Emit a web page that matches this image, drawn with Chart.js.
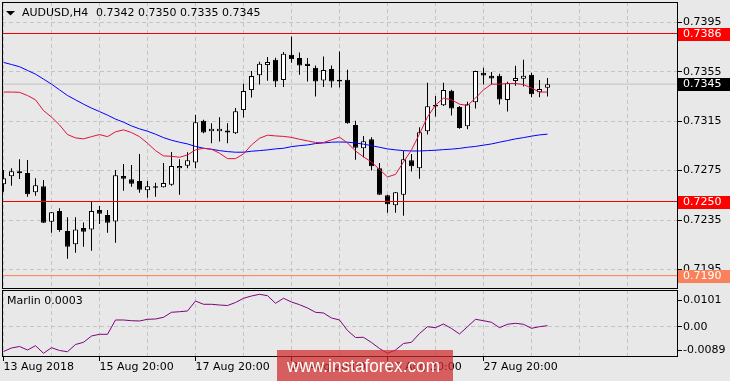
<!DOCTYPE html>
<html>
<head>
<meta charset="utf-8">
<script src="https://cdn.jsdelivr.net/npm/chart.js@4.4.1/dist/chart.umd.min.js"></script>
<style>
  html, body { margin: 0; padding: 0; background: #e8e8e8; }
  #wrap { position: relative; width: 730px; height: 381px; overflow: hidden; }
  #priceChart { position: absolute; left: 0; top: 0; }
  #marlinChart { position: absolute; left: 0; top: 289px; }
</style>
</head>
<body>
<div id="wrap">
  <canvas id="priceChart" width="730" height="289"></canvas>
  <canvas id="marlinChart" width="730" height="92"></canvas>
</div>
<script>
// AUDUSD H4 candles, one per bar index
const opens = [0.72639, 0.72704, 0.72729, 0.72731, 0.72574, 0.72623, 0.72336, 0.72423, 0.72261, 0.72153,
  0.72285, 0.72274, 0.72431, 0.72390, 0.72339, 0.72707, 0.72680, 0.72666, 0.72591, 0.72623,
  0.72615, 0.72636, 0.72769, 0.72790, 0.72815, 0.73153, 0.73069, 0.73069, 0.73074, 0.73053,
  0.73240, 0.73402, 0.73523, 0.73604, 0.73647, 0.73483, 0.73688, 0.73661, 0.73615, 0.73583,
  0.73480, 0.73572, 0.73485, 0.73485, 0.73120, 0.72931, 0.73004, 0.72769, 0.72550, 0.72469,
  0.72555, 0.72834, 0.72769, 0.73069, 0.73282, 0.73280, 0.73396, 0.73266, 0.73110, 0.73304,
  0.73542, 0.73518, 0.73518, 0.73321, 0.73475, 0.73493, 0.73526, 0.73385, 0.73420];
const highs = [0.72755, 0.72769, 0.72842, 0.72836, 0.72688, 0.72674, 0.72415, 0.72445, 0.72372, 0.72372,
  0.72331, 0.72498, 0.72463, 0.72431, 0.72755, 0.72804, 0.72796, 0.72885, 0.72666, 0.72652,
  0.72812, 0.72901, 0.72842, 0.72899, 0.73201, 0.73161, 0.73134, 0.73183, 0.73134, 0.73256,
  0.73453, 0.73556, 0.73631, 0.73669, 0.73664, 0.73710, 0.73836, 0.73707, 0.73661, 0.73601,
  0.73674, 0.73601, 0.73715, 0.73566, 0.73153, 0.73031, 0.73021, 0.72812, 0.72555, 0.72576,
  0.72909, 0.72885, 0.73102, 0.73461, 0.73355, 0.73461, 0.73404, 0.73274, 0.73307, 0.73558,
  0.73583, 0.73548, 0.73534, 0.73469, 0.73599, 0.73647, 0.73542, 0.73483, 0.73500];
const lows = [0.72579, 0.72628, 0.72682, 0.72539, 0.72547, 0.72325, 0.72247, 0.72255, 0.72036, 0.72085,
  0.72133, 0.72101, 0.72317, 0.72247, 0.72166, 0.72587, 0.72620, 0.72571, 0.72531, 0.72539,
  0.72613, 0.72628, 0.72555, 0.72769, 0.72769, 0.73053, 0.72972, 0.72985, 0.72972, 0.73047,
  0.73180, 0.73342, 0.73447, 0.73477, 0.73426, 0.73426, 0.73623, 0.73526, 0.73471, 0.73350,
  0.73426, 0.73423, 0.73423, 0.73130, 0.72839, 0.72858, 0.72750, 0.72553, 0.72409, 0.72409,
  0.72385, 0.72742, 0.72685, 0.73042, 0.73188, 0.73274, 0.73196, 0.73088, 0.73085, 0.73252,
  0.73447, 0.73447, 0.73285, 0.73228, 0.73437, 0.73431, 0.73343, 0.73343, 0.73350];
const closes = [0.72688, 0.72745, 0.72745, 0.72558, 0.72631, 0.72328, 0.72412, 0.72269, 0.72133, 0.72274,
  0.72255, 0.72423, 0.72401, 0.72328, 0.72712, 0.72685, 0.72644, 0.72596, 0.72623, 0.72612,
  0.72650, 0.72788, 0.72788, 0.72834, 0.73142, 0.73058, 0.73088, 0.73088, 0.73058, 0.73231,
  0.73394, 0.73515, 0.73615, 0.73629, 0.73471, 0.73696, 0.73651, 0.73601, 0.73596, 0.73471,
  0.73564, 0.73471, 0.73471, 0.73134, 0.72936, 0.72988, 0.72785, 0.72555, 0.72477, 0.72574,
  0.72842, 0.72785, 0.73061, 0.73272, 0.73269, 0.73402, 0.73252, 0.73096, 0.73288, 0.73556,
  0.73520, 0.73496, 0.73325, 0.73458, 0.73499, 0.73518, 0.73368, 0.73410, 0.73450];

// moving averages (red = fast, blue = slow)
const maFast = [0.73386, 0.73386, 0.73384, 0.73358, 0.73323, 0.73236, 0.73183, 0.73120, 0.73042, 0.73015,
  0.73007, 0.73025, 0.73042, 0.73025, 0.73064, 0.73080, 0.73058, 0.73025, 0.72972, 0.72912,
  0.72869, 0.72866, 0.72858, 0.72877, 0.72918, 0.72931, 0.72923, 0.72891, 0.72847, 0.72847,
  0.72885, 0.72958, 0.73012, 0.73037, 0.73031, 0.73027, 0.73019, 0.73004, 0.72991, 0.72978,
  0.72978, 0.72999, 0.73021, 0.72974, 0.72909, 0.72861, 0.72820, 0.72759, 0.72699, 0.72719,
  0.72820, 0.72918, 0.73047, 0.73185, 0.73280, 0.73337, 0.73323, 0.73288, 0.73277, 0.73337,
  0.73404, 0.73450, 0.73450, 0.73455, 0.73455, 0.73447, 0.73418, 0.73386, 0.73386];
const maSlow = [0.73626, 0.73609, 0.73591, 0.73561, 0.73531, 0.73491, 0.73450, 0.73404, 0.73358, 0.73323,
  0.73288, 0.73256, 0.73228, 0.73199, 0.73167, 0.73142, 0.73112, 0.73088, 0.73069, 0.73045,
  0.73017, 0.72996, 0.72980, 0.72966, 0.72946, 0.72931, 0.72923, 0.72912, 0.72904, 0.72899,
  0.72899, 0.72907, 0.72912, 0.72918, 0.72926, 0.72931, 0.72944, 0.72952, 0.72958, 0.72969,
  0.72974, 0.72980, 0.72982, 0.72980, 0.72974, 0.72964, 0.72952, 0.72939, 0.72926, 0.72918,
  0.72912, 0.72909, 0.72909, 0.72912, 0.72915, 0.72920, 0.72924, 0.72930, 0.72939, 0.72946,
  0.72956, 0.72966, 0.72980, 0.72993, 0.73007, 0.73017, 0.73029, 0.73039, 0.73045];

// Marlin oscillator
const marlin = [-0.00943, -0.00810, -0.00753, -0.00886, -0.00722, -0.01011, -0.00798, -0.00905, -0.00951, -0.00677,
  -0.00593, -0.00354, -0.00289, -0.00289, 0.00255, 0.00255, 0.00228, 0.00217, 0.00281, 0.00293,
  0.00357, 0.00548, 0.00570, 0.00597, 0.00977, 0.00852, 0.00852, 0.00825, 0.00806, 0.00920,
  0.01080, 0.01167, 0.01232, 0.01179, 0.00890, 0.01080, 0.00939, 0.00837, 0.00711, 0.00548,
  0.00521, 0.00331, 0.00255, -0.00144, -0.00411, -0.00403, -0.00601, -0.00829, -0.01011, -0.00886,
  -0.00639, -0.00593, -0.00259, 0.00000, -0.00038, 0.00103, -0.00068, -0.00278, 0.00000, 0.00281,
  0.00228, 0.00167, -0.00038, 0.00091, 0.00129, 0.00091, -0.00061, 0.00000, 0.00038];

// levels and ticks
const levelValues = [0.7386, 0.7250, 0.7190];
const levelColors = ['#f00000', '#f00000', '#ff7f50'];
const levelTagColors = ['#ff0000', '#ff0000', '#f9825c'];
const bidPrice = 0.7345;
const priceTicks = [0.7195, 0.7235, 0.7275, 0.7315, 0.7355, 0.7395];
const marlinTicks = [-0.0089, 0, 0.0101];
const marlinTickLabels = ['-0.0089', '0.00', '0.0101'];
const dayGridBars = [0, 6, 12, 18, 24, 30, 36, 42, 48, 54, 60, 66, 72, 78];
const dateTickBars = [0, 12, 24, 36, 48, 60];
const dateTickLabels = ['13 Aug 2018', '15 Aug 20:00', '17 Aug 20:00', '21 Aug 20:00', '23 Aug 20:00', '27 Aug 20:00'];

const xMin = -0.1875, xMax = 84.3125;
const priceMin = 0.717917, priceMax = 0.741150;
const marlinMin = -0.011521, marlinMax = 0.013954;

Chart.defaults.font.family = '"DejaVu Sans", Verdana, sans-serif';
Chart.defaults.font.size = 11;
Chart.defaults.color = '#000';

const idx = closes.map((c, i) => i);
const bodyData = idx.map(i => ({x: i, y: [opens[i], closes[i]]}));
const wickData = idx.map(i => ({x: i, y: [lows[i], highs[i]]}));
const bodyFill = idx.map(i => closes[i] >= opens[i] ? '#ffffff' : '#000000');
const hLine = v => [{x: xMin, y: v}, {x: xMax, y: v}];
const lineDs = (data, color, order) => ({
  type: 'line', data: data, borderColor: color, borderWidth: 1,
  pointRadius: 0, tension: 0, fill: false, order: order
});

// no automatic label padding, the panes are fixed boxes
function noPad(s) {
  s.paddingTop = 0; s.paddingBottom = 0; s.paddingLeft = 0; s.paddingRight = 0;
}

const framePlugin = {
  id: 'frame',
  afterDraw(chart) {
    const {ctx, chartArea: a} = chart;
    ctx.save();
    ctx.strokeStyle = '#000';
    ctx.lineWidth = 1;
    ctx.strokeRect(a.left + 0.5, a.top + 0.5, a.right - a.left - 1, a.bottom - a.top - 1);
    ctx.restore();
  }
};

const priceTags = {
  id: 'priceTags',
  afterDraw(chart) {
    const {ctx, chartArea: a} = chart;
    const ys = chart.scales.y;
    const tags = levelValues.map((v, i) => ({v: v, bg: levelTagColors[i]}));
    tags.push({v: bidPrice, bg: '#000000'});
    ctx.save();
    ctx.font = '11px "DejaVu Sans", Verdana, sans-serif';
    ctx.textBaseline = 'middle';
    tags.forEach(t => {
      const py = Math.round(ys.getPixelForValue(t.v));
      ctx.fillStyle = t.bg;
      ctx.fillRect(a.right, py - 6, 52, 13);
      ctx.fillStyle = '#ffffff';
      ctx.fillText(t.v.toFixed(4), a.right + 5, py + 0.5);
    });
    // symbol header
    ctx.fillStyle = '#000';
    ctx.beginPath();
    ctx.moveTo(6, 11); ctx.lineTo(15, 11); ctx.lineTo(10.5, 15.5); ctx.closePath();
    ctx.fill();
    ctx.fillText('AUDUSD,H4', 22, 13);
    ctx.fillText('0.7342 0.7350 0.7335 0.7345', 96, 13);
    ctx.restore();
  }
};

new Chart(document.getElementById('priceChart'), {
  type: 'bar',
  data: {
    datasets: [
      lineDs(hLine(levelValues[0]), levelColors[0], 0),
      lineDs(hLine(levelValues[1]), levelColors[1], 0),
      lineDs(hLine(levelValues[2]), levelColors[2], 0),
      lineDs(maFast.map((v, i) => ({x: i, y: v})), '#dc143c', 1),
      lineDs(maSlow.map((v, i) => ({x: i, y: v})), '#0000ff', 1),
      {
        type: 'bar', data: bodyData, backgroundColor: bodyFill, borderColor: '#000',
        borderWidth: 1, borderSkipped: false, barThickness: 5, grouped: false,
        inflateAmount: 0, order: 2
      },
      {
        type: 'bar', data: wickData, backgroundColor: '#000', borderWidth: 0,
        barThickness: 1, grouped: false, inflateAmount: 0, order: 3
      },
      lineDs(hLine(bidPrice), '#c0c0c0', 4)
    ]
  },
  options: {
    responsive: false,
    animation: false,
    events: [],
    layout: {autoPadding: false, padding: {left: 2, top: 2, right: 0, bottom: 0}},
    plugins: {legend: {display: false}, tooltip: {enabled: false}},
    scales: {
      x: {
        type: 'linear', min: xMin, max: xMax, offset: false,
        afterBuildTicks: s => { s.ticks = dayGridBars.map(v => ({value: v})); },
        afterFit: s => { s.height = 0; noPad(s); },
        ticks: {display: false},
        grid: {color: '#c4c4c4', drawTicks: false, offset: false},
        border: {display: false, dash: [4, 3]}
      },
      y: {
        position: 'right', min: priceMin, max: priceMax,
        afterBuildTicks: s => { s.ticks = priceTicks.map(v => ({value: v})); },
        afterFit: s => { s.width = 52; noPad(s); },
        ticks: {padding: 1, callback: v => v.toFixed(4)},
        grid: {color: '#c4c4c4', tickColor: '#000', tickLength: 4, tickBorderDash: []},
        border: {display: false, dash: [4, 3]}
      }
    }
  },
  plugins: [framePlugin, priceTags]
});

const marlinDecor = {
  id: 'marlinDecor',
  afterDraw(chart) {
    const ctx = chart.ctx;
    ctx.save();
    ctx.font = '11px "DejaVu Sans", Verdana, sans-serif';
    ctx.textBaseline = 'middle';
    ctx.fillStyle = '#000';
    ctx.fillText('Marlin 0.0003', 7, 12);
    // watermark
    ctx.fillStyle = 'rgba(208, 40, 40, 0.72)';
    ctx.fillRect(277, 61, 176, 31);
    ctx.font = '19px "Liberation Sans Narrow", "Liberation Sans", Arial, sans-serif';
    ctx.textBaseline = 'alphabetic';
    const txt = 'www.instaforex.com';
    const w = ctx.measureText(txt).width;
    ctx.translate(287, 82.5);
    ctx.scale(153 / w, 1);
    ctx.fillStyle = '#ffffff';
    ctx.fillText(txt, 0, 0);
    ctx.restore();
  }
};

new Chart(document.getElementById('marlinChart'), {
  type: 'line',
  data: {
    datasets: [lineDs(marlin.map((v, i) => ({x: i, y: v})), '#800080', 0)]
  },
  options: {
    responsive: false,
    animation: false,
    events: [],
    layout: {autoPadding: false, padding: {left: 2, top: 1, right: 0, bottom: 0}},
    plugins: {legend: {display: false}, tooltip: {enabled: false}},
    scales: {
      x: {
        type: 'linear', min: xMin, max: xMax, offset: false,
        afterBuildTicks: s => { s.ticks = dayGridBars.map(v => ({value: v})); },
        afterFit: s => { s.height = 24; noPad(s); },
        ticks: {
          padding: 0, autoSkip: false, maxRotation: 0, align: 'start',
          callback: v => {
            const j = dateTickBars.indexOf(v);
            return j >= 0 ? dateTickLabels[j] : '';
          }
        },
        grid: {
          color: '#c4c4c4', tickLength: 4, tickBorderDash: [], offset: false,
          tickColor: c => (c.tick && dateTickBars.includes(c.tick.value)) ? '#000' : 'rgba(0,0,0,0)'
        },
        border: {display: false, dash: [4, 3]}
      },
      y: {
        position: 'right', min: marlinMin, max: marlinMax,
        afterBuildTicks: s => { s.ticks = marlinTicks.map(v => ({value: v})); },
        afterFit: s => { s.width = 52; noPad(s); },
        ticks: {
          padding: 1,
          callback: v => marlinTickLabels[marlinTicks.indexOf(v)]
        },
        grid: {
          color: c => (c.tick && c.tick.value === 0) ? '#c4c4c4' : 'rgba(0,0,0,0)',
          tickColor: '#000', tickLength: 4, tickBorderDash: []
        },
        border: {display: false, dash: [4, 3]}
      }
    }
  },
  plugins: [framePlugin, marlinDecor]
});
</script>
</body>
</html>
